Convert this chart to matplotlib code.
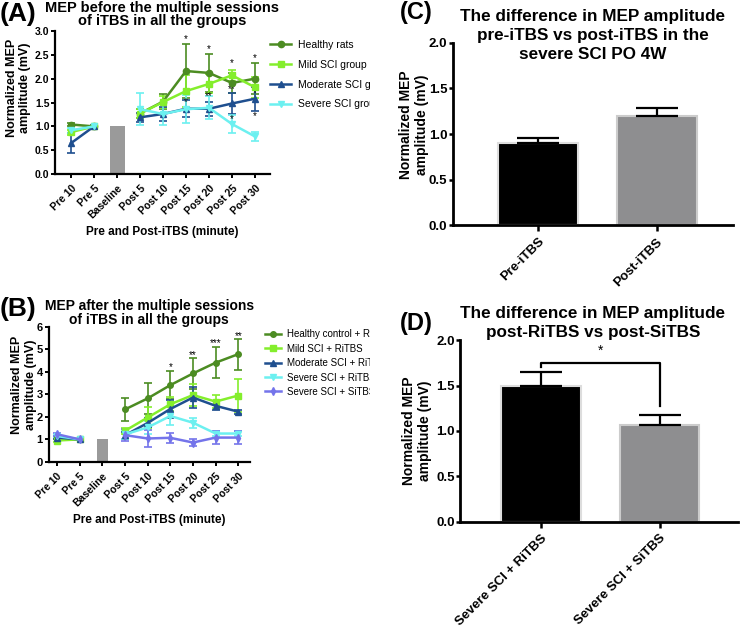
import numpy as np
import matplotlib.pyplot as plt
from matplotlib.lines import Line2D
from matplotlib.patches import Rectangle

plt.rcParams['font.family'] = ['Liberation Sans', 'DejaVu Sans']

# time points (baseline is a grey bar, lines are split around it)
timepoints = ['Pre 10', 'Pre 5', 'Baseline', 'Post 5', 'Post 10', 'Post 15',
              'Post 20', 'Post 25', 'Post 30']

# Panel A: before the multiple sessions (nan at baseline)
a_labels = ['Healthy rats', 'Mild SCI group', 'Moderate SCI group', 'Severe SCI group']
a_healthy = [1.04, 1.0, np.nan, 1.27, 1.52, 2.16, 2.12, 1.91, 2.0]
a_healthy_err = [0.03, 0.01, np.nan, 0.1, 0.15, 0.56, 0.4, 0.2, 0.33]
a_mild = [0.88, 1.0, np.nan, 1.27, 1.51, 1.74, 1.89, 2.07, 1.82]
a_mild_err = [0.05, 0.01, np.nan, 0.1, 0.12, 0.33, 0.2, 0.12, 0.22]
a_moderate = [0.65, 1.0, np.nan, 1.19, 1.26, 1.37, 1.37, 1.48, 1.58]
a_moderate_err = [0.21, 0.02, np.nan, 0.1, 0.15, 0.18, 0.15, 0.21, 0.25]
a_severe = [0.92, 1.0, np.nan, 1.36, 1.26, 1.36, 1.39, 1.05, 0.79]
a_severe_err = [0.05, 0.01, np.nan, 0.33, 0.22, 0.29, 0.24, 0.18, 0.1]
a_stars = [(5, 2.82, '*'), (5, 1.5, '*'), (6, 2.61, '*'), (6, 1.63, '**'),
           (7, 2.33, '*'), (7, 1.78, '**'), (7, 1.16, '*'),
           (8, 2.44, '*'), (8, 1.69, '*'), (8, 1.22, '*')]

# Panel B: after the multiple sessions
b_labels = ['Healthy control + RiTBS', 'Mild SCI + RiTBS', 'Moderate SCI + RiTBS',
            'Severe SCI + RiTBS', 'Severe SCI + SiTBS']
b_healthy = [1.05, 1.0, np.nan, 2.33, 2.82, 3.41, 3.93, 4.41, 4.79]
b_healthy_err = [0.05, 0.02, np.nan, 0.53, 0.69, 0.63, 0.69, 0.7, 0.69]
b_mild = [0.95, 1.0, np.nan, 1.38, 1.97, 2.56, 2.97, 2.68, 2.95]
b_mild_err = [0.05, 0.02, np.nan, 0.12, 0.46, 0.32, 0.48, 0.28, 0.72]
b_moderate = [1.08, 1.0, np.nan, 1.18, 1.73, 2.35, 2.86, 2.49, 2.23]
b_moderate_err = [0.05, 0.02, np.nan, 0.15, 0.2, 0.4, 0.45, 0.2, 0.08]
b_severe = [1.15, 1.0, np.nan, 1.22, 1.53, 2.04, 1.74, 1.26, 1.26]
b_severe_err = [0.06, 0.02, np.nan, 0.2, 0.3, 0.38, 0.22, 0.1, 0.1]
b_sitbs = [1.23, 1.0, np.nan, 1.19, 1.04, 1.07, 0.86, 1.08, 1.08]
b_sitbs_err = [0.06, 0.02, np.nan, 0.25, 0.37, 0.22, 0.17, 0.3, 0.3]
b_stars = [(5, 4.2, '*'), (6, 4.75, '**'), (7, 5.3, '***'), (8, 5.6, '**')]

# Panel C
c_groups = ['Pre-iTBS', 'Post-iTBS']
c_values = [0.9, 1.2]
c_err = [0.06, 0.09]

# Panel D
d_groups = ['Severe SCI + RiTBS', 'Severe SCI + SiTBS']
d_values = [1.5, 1.07]
d_err = [0.15, 0.11]

baseline_value = 1.0

a_colors = ['#4c8c22', '#84ee2c', '#1f4f8f', '#6cf0f0']
a_markers = ['o', 's', '^', 'v']
b_colors = ['#4c8c22', '#84ee2c', '#1f4f8f', '#6cf0f0', '#7474ea']
b_markers = ['o', 's', '^', 'v', 'd']

fig = plt.figure(figsize=(7.41, 6.31), dpi=100)


def style_axes(ax, fs):
    for s in ['top', 'right']:
        ax.spines[s].set_visible(False)
    for s in ['left', 'bottom']:
        ax.spines[s].set_linewidth(1.6)
    ax.tick_params(width=1.4, length=3)
    ax.tick_params(axis='y', pad=1.5)
    for lab in ax.get_yticklabels():
        lab.set_fontweight('bold')
        lab.set_fontsize(fs)


def line_panel(ax, series, errs, colors, markers, labels, ms, bar_w):
    x = np.arange(len(timepoints))
    ax.bar(2, baseline_value, width=bar_w, color='#9a9a9a', zorder=1)
    handles = []
    for vals, err, col, mk, lab in zip(series, errs, colors, markers, labels):
        vals = np.array(vals)
        err = np.array(err)
        for seg in [slice(0, 2), slice(3, 9)]:
            ax.errorbar(x[seg], vals[seg], yerr=err[seg], color=col, marker=mk,
                        ms=ms, lw=1.8, elinewidth=1.2, capsize=3, capthick=1.2,
                        zorder=3)
        handles.append(Line2D([], [], color=col, marker=mk, ms=ms, lw=1.8, label=lab))
    ax.set_xticks(x)
    ax.set_xticklabels(timepoints, rotation=45, ha='right', rotation_mode='anchor',
                       fontsize=7.5, fontweight='bold')
    ax.set_xlabel('Pre and Post-iTBS (minute)', fontsize=8.5, fontweight='bold')
    ax.set_ylabel('Normalized MEP\namplitude (mV)', fontsize=9, fontweight='bold')
    return handles


# ---- Panel A ----
axA = fig.add_axes([0.0742, 0.724, 0.290, 0.227])
hA = line_panel(axA, [a_healthy, a_mild, a_moderate, a_severe],
                [a_healthy_err, a_mild_err, a_moderate_err, a_severe_err],
                a_colors, a_markers, a_labels, 4.5, 0.65)
axA.set_xlim(-0.7, 8.65)
axA.set_ylim(0, 3.0)
axA.set_yticks(np.arange(0, 3.01, 0.5))
axA.set_yticklabels([f'{v:.1f}' for v in np.arange(0, 3.01, 0.5)])
style_axes(axA, 7.5)
axA.tick_params(axis='y', pad=1)
axA.yaxis.set_label_coords(-0.11, 0.6)
for xi, yi, s in a_stars:
    axA.text(xi, yi, s, ha='center', va='center', fontsize=7)
axA.set_title('MEP before the multiple sessions\nof iTBS in all the groups',
              fontsize=10.5, fontweight='bold', pad=4, linespacing=0.95)
legA = fig.legend(handles=hA, loc='upper left', bbox_to_anchor=(0.365, 0.937),
                  frameon=False, fontsize=7.5, handlelength=2.0, handletextpad=0.6,
                  labelspacing=0.95, borderaxespad=0, borderpad=0)
legA.set_zorder(1)
fig.text(0.0, 0.997, '(A)', fontsize=19, fontweight='bold', va='top')

# ---- Panel B ----
axB = fig.add_axes([0.066, 0.268, 0.271, 0.214])
hB = line_panel(axB, [b_healthy, b_mild, b_moderate, b_severe, b_sitbs],
                [b_healthy_err, b_mild_err, b_moderate_err, b_severe_err, b_sitbs_err],
                b_colors, b_markers, b_labels, 4, 0.5)
axB.set_xlim(-0.35, 8.5)
axB.set_ylim(0, 6)
axB.set_yticks(range(0, 7))
axB.set_yticklabels([str(v) for v in range(0, 7)])
style_axes(axB, 8)
axB.yaxis.set_label_coords(-0.06, 0.57)
for xi, yi, s in b_stars:
    axB.text(xi, yi, s, ha='center', va='center', fontsize=7)
axB.set_title('MEP after the multiple sessions\nof iTBS in all the groups',
              fontsize=10, fontweight='bold', pad=2, linespacing=1.0)
legB = fig.legend(handles=hB, loc='upper left', bbox_to_anchor=(0.357, 0.478),
                  frameon=False, fontsize=7, handlelength=1.7, handletextpad=0.6,
                  labelspacing=0.45, borderaxespad=0, borderpad=0)
legB.set_zorder(1)
fig.text(0.0, 0.53, '(B)', fontsize=19, fontweight='bold', va='top')

# right half sits over the clipped legend text, as in the original figure
cover = Rectangle((0.4995, 0), 0.5005, 1, transform=fig.transFigure,
                  facecolor='white', edgecolor='none', zorder=2.5)
fig.patches.append(cover)


def bar_panel(ax, groups, vals, errs, xlim):
    x = np.arange(len(groups))
    ax.bar(x, vals, width=0.67, color=['#000000', '#8e8e90'],
           edgecolor=['#dddddd', '#cccccc'], linewidth=1.5, zorder=2)
    ax.errorbar(x, vals, yerr=[[0, 0], errs], fmt='none', ecolor='black',
                elinewidth=1.6, capsize=15, capthick=1.6, zorder=3)
    ax.set_xlim(*xlim)
    ax.set_ylim(0, 2.0)
    ax.set_yticks(np.arange(0, 2.01, 0.5))
    ax.set_yticklabels([f'{v:.1f}' for v in np.arange(0, 2.01, 0.5)])
    ax.set_xticks(x)
    ax.set_xticklabels(groups, rotation=45, ha='right', rotation_mode='anchor',
                       fontsize=9.5, fontweight='bold')
    ax.set_ylabel('Normalized MEP\namplitude (mV)', fontsize=10, fontweight='bold')
    style_axes(ax, 9.5)
    ax.spines['left'].set_linewidth(2)
    ax.spines['bottom'].set_linewidth(2)
    ax.tick_params(width=1.8, length=4)
    ax.tick_params(axis='y', length=3, pad=1)
    ax.set_zorder(3)


# ---- Panel C ----
axC = fig.add_axes([0.611, 0.643, 0.378, 0.289])
bar_panel(axC, c_groups, c_values, c_err, (-0.714, 1.64))
axC.yaxis.set_label_coords(-0.085, 0.55)
fig.text(0.8, 0.985, 'The difference in MEP amplitude\npre-iTBS vs post-iTBS in the\nsevere SCI PO 4W',
         ha='center', va='top', fontsize=12.3, fontweight='bold', linespacing=1.3,
         zorder=4)
fig.text(0.54, 0.999, '(C)', fontsize=17, fontweight='bold', va='top', zorder=4)

# ---- Panel D ----
axD = fig.add_axes([0.621, 0.173, 0.375, 0.288])
bar_panel(axD, d_groups, d_values, d_err, (-0.68, 1.66))
axD.yaxis.set_label_coords(-0.1, 0.5)
# significance bracket
bh = 1.75
axD.plot([0, 0, 1, 1], [1.7, bh, bh, 1.28], color='black', lw=1.6)
axD.text(0.5, bh + 0.06, '*', ha='center', va='bottom', fontsize=10)
fig.text(0.8, 0.515, 'The difference in MEP amplitude\npost-RiTBS vs post-SiTBS',
         ha='center', va='top', fontsize=12.3, fontweight='bold', linespacing=1.3,
         zorder=4)
fig.text(0.54, 0.506, '(D)', fontsize=17, fontweight='bold', va='top', zorder=4)

fig.savefig('out.png', dpi=100)
